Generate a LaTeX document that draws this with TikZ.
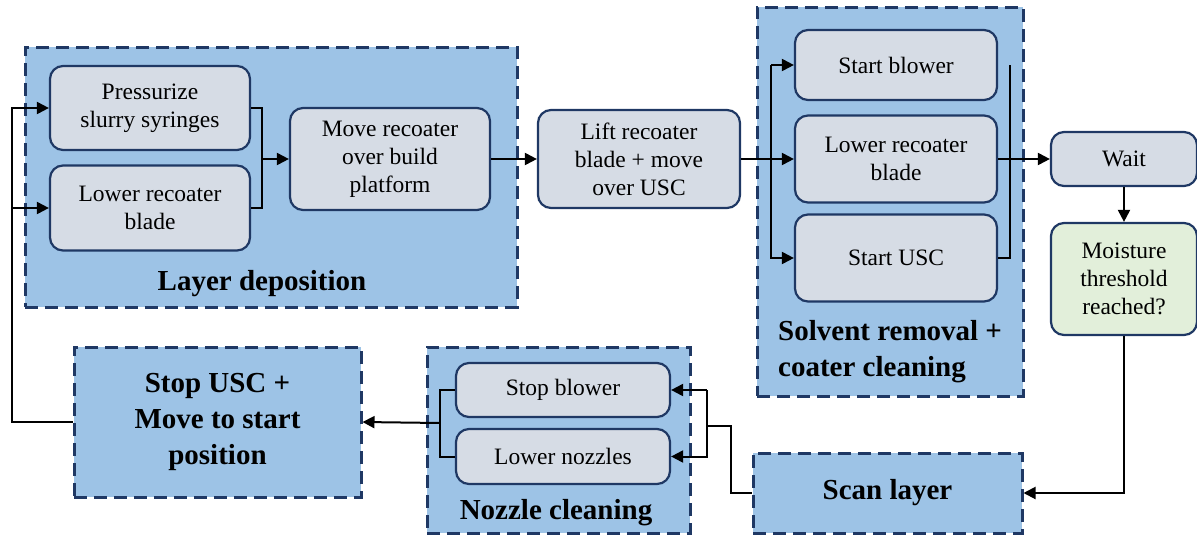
\documentclass[tikz,border=0pt]{standalone}
\usepackage{fontspec}
\setmainfont{Liberation Serif}
\usetikzlibrary{arrows.meta,positioning}
\definecolor{grpfill}{HTML}{9DC3E6}
\definecolor{navy}{HTML}{1F3864}
\definecolor{boxfill}{HTML}{D6DCE5}
\definecolor{greenfill}{HTML}{E2EFDA}
\tikzset{
  grp/.style={draw=navy, fill=grpfill, line width=3pt, dash pattern=on 13pt off 7pt, inner sep=0pt},
  stepbox/.style={draw=navy, fill=boxfill, line width=2.2pt, rounded corners=13pt, align=center, inner sep=0pt,
     font=\fontsize{23.5}{28}\selectfont},
  greenbox/.style={stepbox, fill=greenfill},
  lbl/.style={font=\fontsize{29}{36}\selectfont\bfseries, inner sep=0pt, align=center},
  grplbl/.style={font=\fontsize{29}{36}\selectfont\bfseries, inner sep=0pt, align=center},
  con/.style={draw=black, line width=2pt},
  arr/.style={con, -{Triangle[length=12pt,width=12pt]}},
}
\begin{document}
\begin{tikzpicture}[x=1pt,y=-1pt]
\useasboundingbox (0,0) rectangle (1197,536);
% groups
\node[grp, minimum width=492pt, minimum height=260pt] (gld) at (271,177) {};
\node[grp, minimum width=266pt, minimum height=389pt] (gsr) at (890,201.5) {};
\node[grp, minimum width=263pt, minimum height=186pt] (gnc) at (558.5,440) {};
\node[grp, minimum width=287pt, minimum height=150pt, lbl] (stopusc) at (217.5,422) {Stop USC +\\Move to start\\position};
\node[grp, minimum width=269pt, minimum height=80pt, lbl] (scan) at (887.5,493) {Scan layer};
% group labels
\node[grplbl] (tld) at (262,284) {Layer deposition};
\node[grplbl, align=left, anchor=west] (tsr) at (778,352) {Solvent removal +\\coater cleaning};
\node[grplbl] (tnc) at (556,513) {Nozzle cleaning};
% step boxes
\node[stepbox, minimum width=200pt, minimum height=84pt] (press) at (150,108) {Pressurize\\slurry syringes};
\node[stepbox, minimum width=200pt, minimum height=85pt] (lower) at (150,208) {Lower recoater\\blade};
\node[stepbox, minimum width=200pt, minimum height=102pt] (move) at (390,159) {Move recoater\\over build\\platform};
\node[stepbox, minimum width=202pt, minimum height=98pt] (lift) at (639,159) {Lift recoater\\blade + move\\over USC};
\node[stepbox, minimum width=202pt, minimum height=70pt] (sb) at (896,65) {Start blower};
\node[stepbox, minimum width=202pt, minimum height=87pt] (lrb) at (896,159) {Lower recoater\\blade};
\node[stepbox, minimum width=202pt, minimum height=87pt] (su) at (896,258) {Start USC};
\node[stepbox, minimum width=146pt, minimum height=54pt] (wait) at (1124,159) {Wait};
\node[greenbox, minimum width=146pt, minimum height=112pt] (moist) at (1124,279) {Moisture\\threshold\\reached?};
\node[stepbox, minimum width=214pt, minimum height=54pt] (stopb) at (563,390) {Stop blower};
\node[stepbox, minimum width=214pt, minimum height=55pt] (lnoz) at (563,456.5) {Lower nozzles};
% junction coordinates
\coordinate (l1) at (12,108);
\coordinate (l2) at (12,208);
\coordinate (m1) at (262,108);
\coordinate (m2) at (262,159);
\coordinate (s1) at (771,65);
\coordinate (s2) at (771,159);
\coordinate (s3) at (771,258);
\coordinate (r1) at (1010,65);
\coordinate (r3) at (1010,258);
\coordinate (k1) at (731,493);
\coordinate (k2) at (731,426);
\coordinate (k3) at (707,426);
\coordinate (n1) at (707,390);
\coordinate (n2) at (707,456.5);
\coordinate (b1) at (440,390);
\coordinate (b2) at (440,456.5);
\coordinate (b3) at (440,423);
% connectors
\draw[arr] (stopusc.west) -| (l1) -- (press.west);
\draw[arr] (l2) -- (lower.west);
\draw[con] (press.east) -| (m1) |- (lower.east);
\draw[arr] (m2) -- (move.west);
\draw[arr] (move.east) -- (lift.west);
\draw[con] (lift.east) -- (s2);
\draw[arr] (s2) -- (lrb.west);
\draw[arr] (s1) -- (s3) -- (su.west);
\draw[arr] (s1) -- (sb.west);
\draw[con] (su.east) -- (r3) -- (r1);
\draw[arr] (lrb.east) -- (wait.west);
\draw[arr] (wait.south) -- (moist.north);
\draw[arr] (moist.south) |- (scan.east);
\draw[con] (scan.west) -- (k1) -- (k2) -- (k3);
\draw[arr] (n1) -- (stopb.east);
\draw[arr] (n1) -- (n2) -- (lnoz.east);
\draw[con] (stopb.west) -- (b1) -- (b2) -- (lnoz.west);
\draw[arr] (b3) -- (stopusc.east);
\end{tikzpicture}
\end{document}
